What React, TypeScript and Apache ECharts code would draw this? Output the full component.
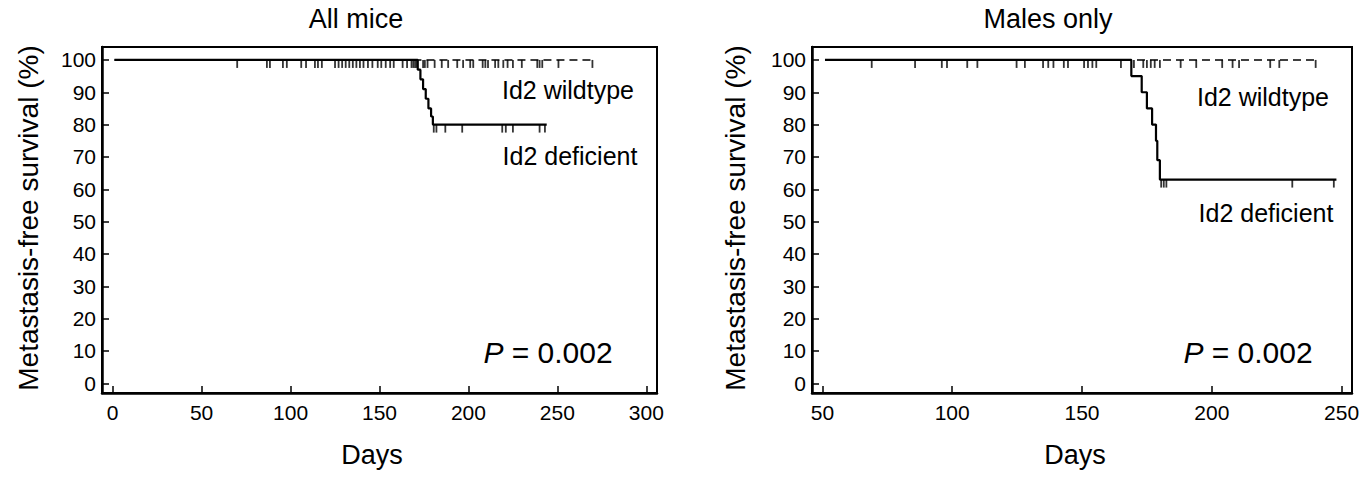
import React, { useEffect, useRef } from "react";
import * as echarts from "echarts";

const FONT = "Liberation Sans, Arial, sans-serif";

const yTicks = [0, 10, 20, 30, 40, 50, 60, 70, 80, 90, 100];
const xTicksAll = [0, 50, 100, 150, 200, 250, 300];
const xTicksMales = [50, 100, 150, 200, 250];

// All mice
const allWildtypeCurve = [[1, 100], [270, 100]];
const allDeficientCurve = [
  [1, 100], [171.5, 97], [173, 94], [174.5, 91], [176, 88], [177.5, 85], [179, 82.5], [180, 80], [244, 80],
];
const allWildtypeCensored = [
  70, 86.7, 88.4, 95.7, 106, 108.7, 113.7, 117.6, 125, 129, 133, 137, 141, 143.5, 149, 153.5, 158, 163, 168, 170,
  174.5, 175.5, 177, 181, 185, 188.6, 193.7, 197, 201, 202.7, 208, 209.5, 211, 215, 216.8, 219.6, 222, 225, 230,
  238.7, 240, 241.5, 250.6, 269.7,
];
const allDeficientCensoredAt100 = [97.9, 115.4, 127, 131, 135, 139, 146, 151, 156, 165.5, 169, 171];
const allDeficientCensoredAt80 = [180.5, 182, 187, 196.5, 219, 221, 225, 240, 243];

// Males only
const malesWildtypeCurve = [[51, 100], [240, 100]];
const malesDeficientCurve = [
  [51, 100], [169, 95], [173, 90], [175, 85], [177, 80], [178.5, 75], [179, 69], [180, 63], [248, 63],
];
const malesWildtypeCensored = [
  69, 96, 105.8, 124.8, 135, 139, 144.6, 152.3, 155.5, 170, 173.6, 175, 176.5, 178, 180, 188, 194, 204, 208, 210.5,
  222.5, 226, 240,
];
const malesDeficientCensoredAt100 = [85.7, 98, 109.7, 128, 137, 143, 150.8, 154, 165];
const malesDeficientCensoredAt63 = [180.5, 181.5, 182.5, 231, 247];

const at = (days: number[], level: number) => days.map((d) => [d, level]);

export default function App() {
  const ref = useRef<HTMLDivElement>(null);
  useEffect(() => {
    document.body.style.margin = "0";
    if (!ref.current) return;
    const chart = echarts.init(ref.current, undefined, { renderer: "svg" });

    const xAxisBase = (min: number, max: number, ticks: number[], gridIndex: number) => ({
      type: "value",
      gridIndex,
      min,
      max,
      axisLine: { show: true, onZero: false, lineStyle: { color: "#000", width: 2.5 } },
      axisTick: { show: true, inside: true, length: 7, customValues: ticks, lineStyle: { color: "#000", width: 1.5 } },
      axisLabel: { customValues: ticks, fontSize: 21, color: "#000", fontFamily: FONT, margin: 9 },
      splitLine: { show: false },
    });
    const yAxisBase = (gridIndex: number) => ({
      type: "value",
      gridIndex,
      min: -3,
      max: 104,
      axisLine: { show: true, onZero: false, lineStyle: { color: "#000", width: 2.5 } },
      axisTick: { show: true, inside: true, length: 7, customValues: yTicks, lineStyle: { color: "#000", width: 1.5 } },
      axisLabel: { customValues: yTicks, fontSize: 21, color: "#000", fontFamily: FONT, margin: 6 },
      splitLine: { show: false },
    });

    const curve = (data: number[][], idx: number, dashed: boolean) => ({
      type: "line",
      xAxisIndex: idx,
      yAxisIndex: idx,
      data,
      step: "end",
      symbol: "none",
      silent: true,
      lineStyle: dashed
        ? { color: "#000", width: 1.5, type: [8, 5] }
        : { color: "#000", width: 2.2 },
      z: dashed ? 2 : 3,
    });
    const censor = (data: number[][], idx: number) => ({
      type: "scatter",
      xAxisIndex: idx,
      yAxisIndex: idx,
      data,
      symbol: "rect",
      symbolSize: [1.8, 8],
      symbolOffset: [0, 4],
      itemStyle: { color: "#000" },
      silent: true,
      z: 4,
    });

    const text = (t: string, x: number, y: number, size: number, extra: any = {}) => ({
      type: "text",
      x,
      y,
      ...extra,
      style: {
        text: t,
        fontSize: size,
        fontFamily: FONT,
        fill: "#000",
        textAlign: "center",
        textVerticalAlign: "middle",
      },
    });
    const pText = (x: number, y: number) => ({
      type: "text",
      x,
      y,
      style: {
        text: "{i|P} = 0.002",
        fontSize: 30,
        fontFamily: FONT,
        fill: "#000",
        textAlign: "center",
        textVerticalAlign: "middle",
        rich: { i: { fontStyle: "italic", fontSize: 30, fontFamily: FONT, fill: "#000" } },
      },
    });

    chart.setOption({
      animation: false,
      backgroundColor: "#fff",
      grid: [
        { left: 102, top: 47, width: 555, height: 346, show: true, borderColor: "#000", borderWidth: 2, backgroundColor: "transparent" },
        { left: 812, top: 47, width: 540, height: 346, show: true, borderColor: "#000", borderWidth: 2, backgroundColor: "transparent" },
      ],
      xAxis: [xAxisBase(-6, 306, xTicksAll, 0), xAxisBase(46, 254, xTicksMales, 1)],
      yAxis: [yAxisBase(0), yAxisBase(1)],
      series: [
        curve(allWildtypeCurve, 0, true),
        curve(allDeficientCurve, 0, false),
        censor(at(allWildtypeCensored, 100), 0),
        censor(at(allDeficientCensoredAt100, 100), 0),
        censor(at(allDeficientCensoredAt80, 80), 0),
        curve(malesWildtypeCurve, 1, true),
        curve(malesDeficientCurve, 1, false),
        censor(at(malesWildtypeCensored, 100), 1),
        censor(at(malesDeficientCensoredAt100, 100), 1),
        censor(at(malesDeficientCensoredAt63, 63), 1),
      ],
      graphic: [
        text("All mice", 356, 19, 27),
        text("Males only", 1048, 19, 27),
        text("Metastasis-free survival (%)", 28, 218, 28, { rotation: Math.PI / 2 }),
        text("Metastasis-free survival (%)", 735, 218, 28, { rotation: Math.PI / 2 }),
        text("Days", 372, 455, 27),
        text("Days", 1075, 455, 27),
        text("Id2 wildtype", 568, 90, 25),
        text("Id2 deficient", 570, 156, 25),
        text("Id2 wildtype", 1263, 97, 25),
        text("Id2 deficient", 1266, 213, 25),
        pText(548, 352),
        pText(1248, 352),
      ],
    });
    return () => chart.dispose();
  }, []);
  return <div ref={ref} style={{ width: 1372, height: 478 }} />;
}
